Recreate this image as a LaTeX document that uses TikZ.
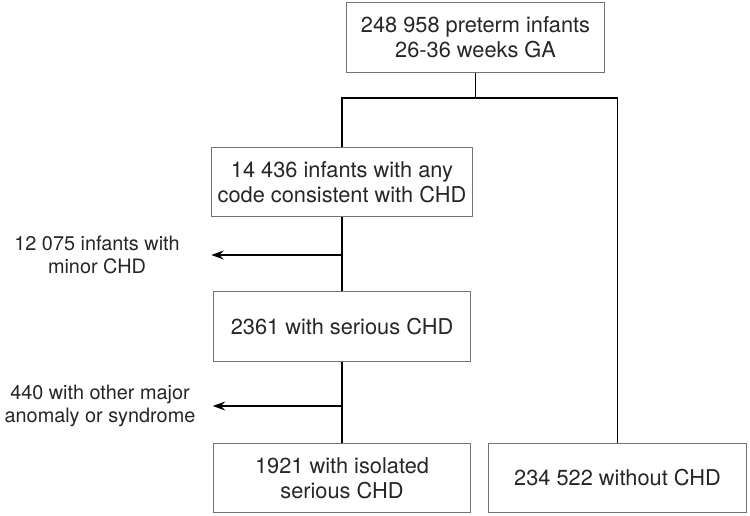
\documentclass[tikz,border=0pt]{standalone}
\usepackage{fontspec}
\setmainfont{TeX Gyre Heros}
\usetikzlibrary{arrows.meta}
\begin{document}
\begin{tikzpicture}[x=0.02cm,y=-0.02cm,font=\fontsize{12.4}{14.4}\selectfont]
\tikzstyle{mybox} = [draw=black!55, line width=0.6pt, minimum width=5.15cm, minimum height=1.39cm, align=center, text=black!85] % box style
\tikzstyle{mylabel} = [align=center, text=black!85, font=\fontsize{11.3}{13.2}\selectfont] % side label style
\tikzstyle{myline} = [line width=1.1pt] % connector style
\useasboundingbox (0,0) rectangle (750,516);
\node[mybox] (start) at (475.5,37.5) {248 958 preterm infants\\26-36 weeks GA}; % все недоношенные
\node[mybox] (any) at (342,182) {14 436 infants with any\\code consistent with CHD};
\node[mybox] (serious) at (342,326.5) {2361 with serious CHD};
\node[mybox] (isolated) at (342,478) {1921 with isolated\\serious CHD};
\node[mybox] (without) at (617.5,478) {234 522 without CHD};
\node[mylabel] (minor) at (97,255) {12 075 infants with\\minor CHD}; % исключенные
\node[mylabel] (other) at (100,406) {440 with other major\\anomaly or syndrome};
\coordinate (fork) at (475.5,98); % точка ветвления
\draw[myline] (start.south) -- (fork);
\draw[myline] (any.north) |- (fork) -| (without.north);
\draw[myline] (any.south) -- (serious.north);
\draw[myline] (serious.south) -- (isolated.north);
\draw[myline, -{Stealth[length=7pt,width=5pt]}] (minor -| any) -- (minor -| any.west);
\draw[myline, -{Stealth[length=7pt,width=5pt]}] (other -| serious) -- (other -| serious.west);
\end{tikzpicture}
\end{document}
